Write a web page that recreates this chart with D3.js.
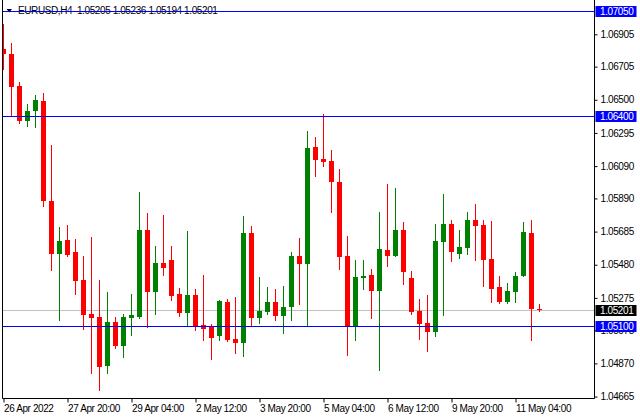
<!DOCTYPE html>
<html><head><meta charset="utf-8">
<script src="https://cdn.jsdelivr.net/npm/d3@7"></script>
<style>
body{margin:0;background:#fff;}
svg{display:block;}
text{font-family:"Liberation Sans",Arial,sans-serif;font-size:10px;letter-spacing:-0.4px;}
</style></head><body>
<svg id="c" width="640" height="420"></svg>
<script>
// ---- data (EURUSD H4) ----
const opens  = [1.06812,1.06785,1.06586,1.06370,1.06428,1.06494,1.05877,1.05546,1.05631,1.05557,1.05384,1.05175,1.05156,1.04854,1.05125,1.04977,1.05150,1.05156,1.05692,1.05310,1.05489,1.05507,1.05298,1.05181,1.05292,1.05107,1.05101,1.05039,1.05249,1.05020,1.04996,1.05674,1.05150,1.05187,1.05249,1.05162,1.05218,1.05532,1.05483,1.06210,1.06136,1.06124,1.05994,1.05532,1.05101,1.05396,1.05415,1.05316,1.05569,1.05532,1.05692,1.05396,1.05193,1.05119,1.05064,1.05618,1.05729,1.05544,1.05581,1.05754,1.05723,1.05514,1.05341,1.05249,1.05310,1.05409,1.05674,1.05205];
const highs  = [1.06966,1.06851,1.06611,1.06475,1.06531,1.06543,1.06222,1.05711,1.05723,1.05637,1.05532,1.05649,1.05384,1.05310,1.05156,1.05175,1.05298,1.05927,1.05803,1.05594,1.05785,1.05594,1.05335,1.05686,1.05329,1.05415,1.05113,1.05261,1.05267,1.05279,1.05779,1.05717,1.05403,1.05341,1.05329,1.05347,1.05557,1.05643,1.06309,1.06272,1.06414,1.06192,1.06074,1.05655,1.05507,1.05507,1.05452,1.05809,1.05982,1.05957,1.05742,1.05440,1.05267,1.05292,1.05735,1.05920,1.05754,1.05692,1.05809,1.05853,1.05754,1.05748,1.05409,1.05366,1.05433,1.05742,1.05754,1.05236];
const lows   = [1.06689,1.06407,1.06354,1.06340,1.06329,1.05846,1.05446,1.05138,1.05532,1.05298,1.05082,1.04811,1.04706,1.04811,1.04965,1.04910,1.05045,1.05150,1.05094,1.05175,1.05415,1.05261,1.05162,1.05101,1.05076,1.05014,1.04897,1.05014,1.05008,1.04934,1.04916,1.05107,1.05119,1.05175,1.05138,1.05057,1.05138,1.05236,1.05101,1.06031,1.06093,1.05809,1.05452,1.04922,1.05014,1.05329,1.05150,1.04829,1.05470,1.05532,1.05359,1.05175,1.05020,1.04946,1.05039,1.05168,1.05501,1.05520,1.05544,1.05507,1.05347,1.05249,1.05245,1.05242,1.05249,1.05409,1.05014,1.05194];
const closes = [1.06781,1.06580,1.06370,1.06432,1.06500,1.05873,1.05549,1.05625,1.05538,1.05380,1.05168,1.05150,1.04848,1.05125,1.04977,1.05156,1.05168,1.05692,1.05310,1.05489,1.05458,1.05286,1.05181,1.05292,1.05101,1.05082,1.05027,1.05255,1.05014,1.04996,1.05674,1.05150,1.05193,1.05249,1.05162,1.05218,1.05532,1.05483,1.06204,1.06130,1.06118,1.05994,1.05526,1.05101,1.05403,1.05409,1.05316,1.05575,1.05532,1.05692,1.05433,1.05187,1.05113,1.05064,1.05625,1.05729,1.05557,1.05588,1.05754,1.05717,1.05507,1.05329,1.05249,1.05316,1.05409,1.05680,1.05205,1.05201];
const timeLabels = ["26 Apr 2022","27 Apr 20:00","29 Apr 04:00","2 May 12:00","3 May 20:00","5 May 04:00","6 May 12:00","9 May 20:00","11 May 04:00"];
const timeLabelIdx = [0,8,16,24,32,40,48,56,64];
const priceTicks = ["1.06905","1.06705","1.06500","1.06295","1.06090","1.05890","1.05685","1.05480","1.05275","1.05075","1.04870","1.04665"];
const levels = [1.07050,1.06400,1.05100];
const bidPrice = 1.05201;
const title = "EURUSD,H4  1.05205 1.05236 1.05194 1.05201";

// ---- layout ----
const left=2.5, right=594.5, bottom=398.5;
const svg=d3.select("#c");
const n=opens.length;
const x=d3.scaleLinear().domain([0,n-1]).range([3.5,3.5+8*(n-1)]);
const y=d3.scaleLinear().domain([1.04656,1.07117]).range([398,0]);
const bull="#008000", bear="#ff0000";
const cy=p=>Math.round(y(p));

svg.append("defs").append("clipPath").attr("id","pc").append("rect")
  .attr("x",3).attr("y",0).attr("width",right-3).attr("height",398);

// title
svg.append("path").attr("d","M6.5,9 L12,9 L9.25,12.5 Z").attr("fill","#000");
svg.append("text").attr("x",18).attr("y",14).attr("fill","#000")
  .style("white-space","pre").text(title);

const plot=svg.append("g").attr("clip-path","url(#pc)");
plot.append("line").attr("x1",left).attr("x2",right).attr("y1",cy(bidPrice)+0.5).attr("y2",cy(bidPrice)+0.5)
  .attr("stroke","#c0c0c0").attr("stroke-width",1);

// candles
const idx=d3.range(n);
const g=plot.selectAll("g.c").data(idx).join("g").attr("class","c");
g.append("line").attr("x1",i=>x(i)).attr("x2",i=>x(i))
  .attr("y1",i=>cy(highs[i])).attr("y2",i=>cy(lows[i])+1)
  .attr("stroke",i=>closes[i]>=opens[i]?bull:bear).attr("stroke-width",1);
g.append("rect").attr("x",i=>x(i)-2.5).attr("width",5)
  .attr("y",i=>cy(Math.max(opens[i],closes[i])))
  .attr("height",i=>Math.max(1,cy(Math.min(opens[i],closes[i]))-cy(Math.max(opens[i],closes[i]))))
  .attr("fill",i=>closes[i]>=opens[i]?bull:bear);

// level lines
svg.selectAll("line.lv").data(levels).join("line").attr("class","lv")
  .attr("x1",left).attr("x2",right).attr("y1",d=>cy(d)+0.5).attr("y2",d=>cy(d)+0.5)
  .attr("stroke","#0000ff").attr("stroke-width",1);

// frame
svg.append("line").attr("x1",left).attr("x2",left).attr("y1",0).attr("y2",bottom).attr("stroke","#000");
svg.append("line").attr("x1",left).attr("x2",right).attr("y1",bottom).attr("y2",bottom).attr("stroke","#000");
svg.append("line").attr("x1",right).attr("x2",right).attr("y1",0).attr("y2",bottom).attr("stroke","#000");

// y axis
const ya=svg.append("g").attr("transform",`translate(${right},0)`)
  .call(d3.axisRight(y).tickValues(priceTicks.map(Number)).tickSize(3).tickPadding(3)
    .tickFormat((d,i)=>priceTicks[i]));
ya.select(".domain").remove();
ya.attr("font-family",null).attr("font-size",null);
ya.selectAll("text").attr("fill","#000");
ya.selectAll("line").attr("stroke","#000");

// x axis
const xa=svg.append("g").attr("transform",`translate(0,${bottom})`)
  .call(d3.axisBottom(x).tickValues(timeLabelIdx).tickSize(4).tickPadding(2)
    .tickFormat((d,i)=>timeLabels[i]));
xa.select(".domain").remove();
xa.attr("font-family",null).attr("font-size",null);
xa.selectAll("text").attr("text-anchor","start").attr("fill","#000");
xa.selectAll("line").attr("stroke","#000");

// price boxes
function box(p,bg,fg){
  const yy=cy(p)+0.5;
  svg.append("rect").attr("x",right+1).attr("y",yy-5.5).attr("width",41).attr("height",11).attr("fill",bg);
  svg.append("text").attr("x",600).attr("y",yy+3.5).attr("fill",fg).text(p.toFixed(5));
}
levels.forEach(p=>box(p,"#0000ff","#fff"));
box(bidPrice,"#000","#fff");
</script>
</body></html>
